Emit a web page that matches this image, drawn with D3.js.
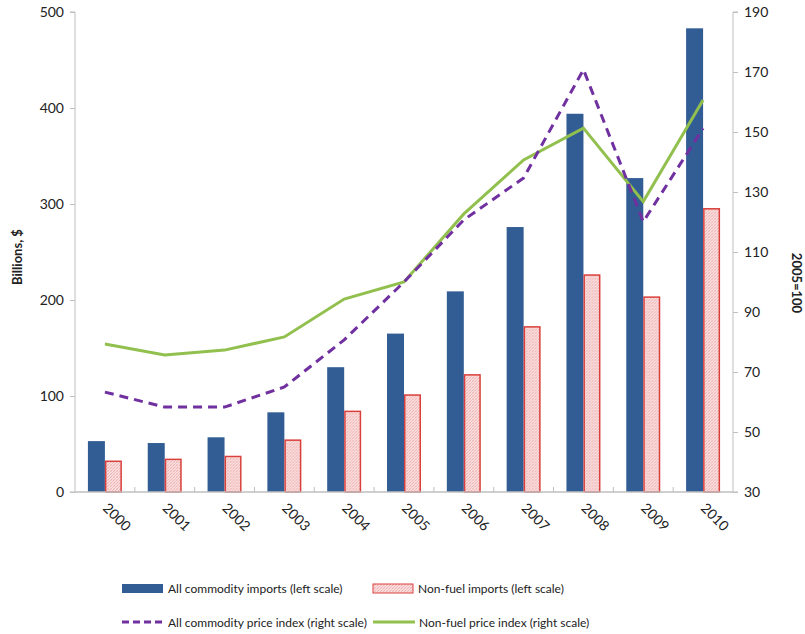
<!DOCTYPE html>
<meta charset="utf-8">
<script src="https://d3js.org/d3.v7.min.js"></script>
<style>
  body { margin: 0; background: #fff; }
  text { font-family: Lato, "Liberation Sans", sans-serif; fill: #222; }
</style>
<svg id="chart" width="805" height="634"></svg>
<script>

// Data
var years = ["2000","2001","2002","2003","2004","2005","2006","2007","2008","2009","2010"];
var allImports = [53, 51, 57, 83, 130, 165, 209, 276, 394, 327, 483];
var nonFuelImports = [32, 34, 37, 54, 84, 101, 122, 172, 226, 203, 295];
var allPriceIndex = [63.3, 58.3, 58.3, 65, 80.7, 100, 120.7, 134.7, 170.8, 120.1, 151.2];
var nonFuelPriceIndex = [79.3, 75.7, 77.3, 81.7, 94.3, 100, 122.7, 140.7, 151.3, 126.8, 160.7];
var leftTicks = [0, 100, 200, 300, 400, 500];
var rightTicks = [30, 50, 70, 90, 110, 130, 150, 170, 190];
var barSeries = ["all", "nonfuel"];

var svg = d3.select("#chart");

var mLeft = 75, mRight = 733, mTop = 12, mBottom = 492;

var x = d3.scaleBand().domain(years).range([mLeft, mRight]).padding(0);
var x1 = d3.scaleBand().domain(barSeries).range([0, x.bandwidth()]).paddingInner(0).paddingOuter(0.76);
var yL = d3.scaleLinear().domain([0, 500]).range([mBottom, mTop]);
var yR = d3.scaleLinear().domain([30, 190]).range([mBottom, mTop]);

// cross-hatch pattern for non-fuel bars
var defs = svg.append("defs");
var pat = defs.append("pattern")
  .attr("id", "hatch")
  .attr("patternUnits", "userSpaceOnUse")
  .attr("width", 3).attr("height", 3);
pat.append("rect").attr("width", 3).attr("height", 3).attr("fill", "#fae0e0");
pat.append("path").attr("d", "M0,3 L3,0").attr("stroke", "#eba0a0").attr("stroke-width", 0.7);
pat.append("path").attr("d", "M0,0 L3,3").attr("stroke", "#f3c2c2").attr("stroke-width", 0.5);

// axes
var axisColor = "#bfbfbf";
var gL = svg.append("g").attr("transform", "translate(" + mLeft + ",0)")
  .call(d3.axisLeft(yL).tickValues(leftTicks).tickSize(5).tickPadding(6));
var gR = svg.append("g").attr("transform", "translate(" + mRight + ",0)")
  .call(d3.axisRight(yR).tickValues(rightTicks).tickSize(5).tickPadding(6));
gL.select(".domain").attr("stroke", axisColor).attr("d", "M-5," + mTop + "H0V" + mBottom + "H-5");
gR.select(".domain").attr("stroke", axisColor).attr("d", "M5," + mTop + "H0V" + mBottom + "H5");
[gL, gR].forEach(function(g) {
  g.selectAll(".tick line").attr("stroke", axisColor);
  g.selectAll(".tick text").style("font-size", "14px").attr("fill", "#333")
    .style("font-family", "Lato, 'Liberation Sans', sans-serif");
});

// bars
var groups = svg.append("g").selectAll("g")
  .data(years)
  .enter().append("g")
  .attr("transform", function(d) { return "translate(" + x(d) + ",0)"; });

groups.append("rect")
  .attr("x", x1("all"))
  .attr("width", x1.bandwidth())
  .attr("y", function(d, i) { return yL(allImports[i]); })
  .attr("height", function(d, i) { return mBottom - yL(allImports[i]); })
  .attr("fill", "#325d94");

groups.append("rect")
  .attr("x", x1("nonfuel") + 0.75)
  .attr("width", x1.bandwidth() - 1.5)
  .attr("y", function(d, i) { return yL(nonFuelImports[i]); })
  .attr("height", function(d, i) { return mBottom - yL(nonFuelImports[i]); })
  .attr("fill", "url(#hatch)")
  .attr("stroke", "#d9403c")
  .attr("stroke-width", 1.5);

// x axis
svg.append("line")
  .attr("x1", mLeft).attr("x2", mRight).attr("y1", mBottom).attr("y2", mBottom)
  .attr("stroke", axisColor).attr("stroke-width", 1.5);
svg.append("g").selectAll("line")
  .data(years.slice(1))
  .enter().append("line")
  .attr("x1", function(d) { return x(d); })
  .attr("x2", function(d) { return x(d); })
  .attr("y1", mBottom).attr("y2", mBottom - 5)
  .attr("stroke", axisColor);

svg.append("g").selectAll("text")
  .data(years)
  .enter().append("text")
  .attr("transform", function(d) {
    return "translate(" + (x(d) + x.bandwidth() / 2 - 3) + "," + (mBottom + 17) + ") rotate(45)";
  })
  .style("font-size", "14px")
  .attr("fill", "#333")
  .text(function(d) { return d; });

// lines
var line = function(vals) {
  return d3.line()
    .x(function(d, i) { return x(years[i]) + x.bandwidth() / 2; })
    .y(function(d) { return yR(d); })(vals);
};

svg.append("path")
  .attr("d", line(nonFuelPriceIndex))
  .attr("fill", "none")
  .attr("stroke", "#92c04f")
  .attr("stroke-width", 3);

svg.append("path")
  .attr("d", line(allPriceIndex))
  .attr("fill", "none")
  .attr("stroke", "#7030a0")
  .attr("stroke-width", 3)
  .attr("stroke-dasharray", "9,6");

// axis titles
svg.append("text")
  .attr("transform", "translate(22,257) rotate(-90)")
  .attr("text-anchor", "middle")
  .style("font-size", "13px").style("font-weight", "bold")
  .text("Billions, $");

svg.append("text")
  .attr("transform", "translate(792,283) rotate(90)")
  .attr("text-anchor", "middle")
  .style("font-size", "13px").style("font-weight", "bold")
  .text("2005=100");

// legend
var legend = svg.append("g").style("font-size", "12px");
legend.append("rect").attr("x", 122).attr("y", 584).attr("width", 41).attr("height", 9).attr("fill", "#325d94");
legend.append("text").attr("x", 168).attr("y", 593).text("All commodity imports (left scale)");
legend.append("rect").attr("x", 373).attr("y", 584).attr("width", 40).attr("height", 9)
  .attr("fill", "url(#hatch)").attr("stroke", "#d9403c").attr("stroke-width", 1);
legend.append("text").attr("x", 418).attr("y", 593).text("Non-fuel imports (left scale)");
legend.append("line").attr("x1", 122).attr("x2", 163).attr("y1", 622).attr("y2", 622)
  .attr("stroke", "#7030a0").attr("stroke-width", 3).attr("stroke-dasharray", "7,4");
legend.append("text").attr("x", 168).attr("y", 627).text("All commodity price index (right scale)");
legend.append("line").attr("x1", 373).attr("x2", 415).attr("y1", 622).attr("y2", 622)
  .attr("stroke", "#92c04f").attr("stroke-width", 3);
legend.append("text").attr("x", 419).attr("y", 627).text("Non-fuel price index (right scale)");

</script>
